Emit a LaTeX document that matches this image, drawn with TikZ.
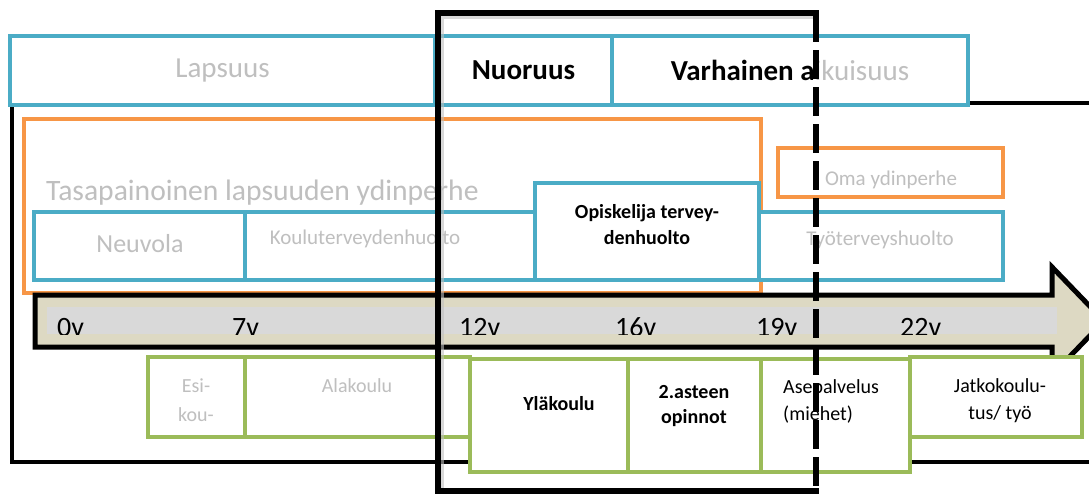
\documentclass[tikz,border=0pt]{standalone}
\usepackage{fontspec}
\setmainfont{Carlito}
\definecolor{cblue}{HTML}{4BACC6}
\definecolor{corange}{HTML}{F79646}
\definecolor{cgreen}{HTML}{9BBB59}
\definecolor{cgrey}{HTML}{BFBFBF}
\definecolor{carrow}{HTML}{DDD9C3}
\definecolor{cband}{HTML}{D9D9D9}
\begin{document}
\begin{tikzpicture}[x=1pt,y=-1pt,
  boxbase/.style={fill=white, line width=4pt, inner sep=0pt, outer sep=0pt, anchor=north west},
  bbox/.style={boxbase, draw=cblue},
  obox/.style={boxbase, draw=corange},
  gbox/.style={boxbase, draw=cgreen},
  bigtxt/.style={inner sep=0pt, font=\fontsize{29}{32}\selectfont},
  midtxt/.style={inner sep=0pt, font=\fontsize{21}{25}\selectfont},
  smalltxt/.style={inner sep=0pt, font=\fontsize{20}{24}\selectfont},
  boldtxt/.style={inner sep=0pt, font=\fontsize{20}{24}\selectfont\bfseries},
  agetxt/.style={inner sep=0pt, anchor=base west, font=\fontsize{28}{30}\selectfont},
  greyed/.style={text=cgrey},
  frameline/.style={line width=6pt, line cap=rect},
  shadowline/.style={line width=6pt, draw=black!25, opacity=0.6},
]
\useasboundingbox (0,0) rectangle (1089,493);

% outer black frame
\node[draw=black, line width=4.5pt, inner sep=0pt, outer sep=0pt, anchor=north west,
      minimum width=1098, minimum height=359] (outer) at (12,103) {};

% top row
\node[bbox, minimum width=425, minimum height=69] (lap) at (10,36) {};
\node[bbox, minimum width=177, minimum height=69] (nuo) at (435,36) {};
\node[bbox, minimum width=356, minimum height=69] (var) at (612,36) {};

% orange boxes
\node[obox, minimum width=737, minimum height=174] (tasa) at (24,119) {};
\node[obox, minimum width=225, minimum height=49] (oma) at (778,148) {};

% blue middle row
\node[bbox, minimum width=211, minimum height=68] (neu) at (34,212) {};
\node[bbox, minimum width=290, minimum height=68] (kou) at (245,212) {};
\node[bbox, minimum width=244, minimum height=68] (tyo) at (759,212) {};
\node[bbox, minimum width=224, minimum height=97] (opi) at (535,183) {};

% arrow
\coordinate (a1) at (35,295);
\coordinate (a2) at (1052,295);
\coordinate (a3) at (1052,267);
\coordinate (a4) at (1104,321);
\coordinate (a5) at (1052,375);
\coordinate (a6) at (1052,347);
\coordinate (a7) at (35,347);
\draw[line width=5pt, fill=carrow, line join=miter] (a1) -- (a2) -- (a3) -- (a4) -- (a5) -- (a6) -- (a7) -- cycle;
\fill[cband] (47,307) rectangle (1057,334);
\begin{scope}
  \clip (47,307) rectangle (1057,334);
  \node[agetxt] (v0) at (57,336) {0v};
  \node[agetxt] (v7) at (232,336) {7v};
  \node[agetxt] (v12) at (459,336) {12v};
  \node[agetxt] (v16) at (615,336) {16v};
  \node[agetxt] (v19) at (756,336) {19v};
  \node[agetxt] (v22) at (900,336) {22v};
\end{scope}

% green boxes
\node[gbox, minimum width=97, minimum height=80] (esi) at (148,357) {};
\node[gbox, minimum width=225, minimum height=80] (ala) at (245,357) {};
\node[gbox, minimum width=158, minimum height=113] (yla) at (470,359) {};
\node[gbox, minimum width=133, minimum height=113] (ast) at (628,359) {};
\node[gbox, minimum width=149, minimum height=113] (ase) at (761,359) {};
\node[gbox, minimum width=172, minimum height=80] (jat) at (910,357) {};

% texts
\node[bigtxt, greyed] (tlap) at (lap.center) {Lapsuus};
\node[bigtxt, font=\fontsize{29}{32}\selectfont\bfseries] (tnuo) at (nuo.center) {Nuoruus};
\node[bigtxt, anchor=base] (tvar) at (790,80) {{\bfseries Varhainen a}{\color{cgrey}ikuisuus}};
\node[bigtxt, greyed, anchor=base west, font=\fontsize{29.6}{32}\selectfont] (ttasa) at (46,200) {Tasapainoinen lapsuuden ydinperhe};
\node[midtxt, greyed, anchor=base] (toma) at (891,185) {Oma ydinperhe};
\node[inner sep=0pt, font=\fontsize{26}{30}\selectfont, greyed, anchor=base] (tneu) at (140,252) {Neuvola};
\node[midtxt, greyed, anchor=base] (tkou) at (365,244) {Kouluterveydenhuolto};
\node[boldtxt, anchor=base] (topi1) at (647,218) {Opiskelija tervey-};
\node[boldtxt, anchor=base] (topi2) at (647,244) {denhuolto};
\node[midtxt, greyed, anchor=base] (ttyo) at (880,245) {Työterveyshuolto};

\node[smalltxt, greyed, anchor=base] (tesi1) at (196,392) {Esi-};
\node[smalltxt, greyed, anchor=base] (tesi2) at (196,421) {kou-};
\node[smalltxt, greyed, anchor=base] (tala) at (357,392) {Alakoulu};
\node[boldtxt, anchor=base] (tyla) at (559,410) {Yläkoulu};
\node[boldtxt, anchor=base] (tast1) at (694,398) {2.asteen};
\node[boldtxt, anchor=base] (tast2) at (694,423) {opinnot};
\node[smalltxt, anchor=base west] (tase1) at (783,393) {Asepalvelus};
\node[smalltxt, anchor=base west] (tase2) at (783,420) {(miehet)};
\node[smalltxt, anchor=base] (tjat1) at (1000,392) {Jatkokoulu-};
\node[smalltxt, anchor=base] (tjat2) at (1000,419) {tus/ työ};

% tall emphasis frame
\coordinate (f1) at (816,13);
\coordinate (f2) at (438,13);
\coordinate (f3) at (438,491);
\coordinate (f4) at (816,491);
\draw[shadowline] ([shift={(3,3)}]f1) -- ([shift={(3,3)}]f2) -- ([shift={(3,3)}]f3) -- ([shift={(3,3)}]f4);
\draw[frameline] (f1) -- (f2) -- (f3) -- (f4);
\draw[line width=6pt, dash pattern=on 29pt off 8pt] (f1) -- (f4);
\end{tikzpicture}
\end{document}
